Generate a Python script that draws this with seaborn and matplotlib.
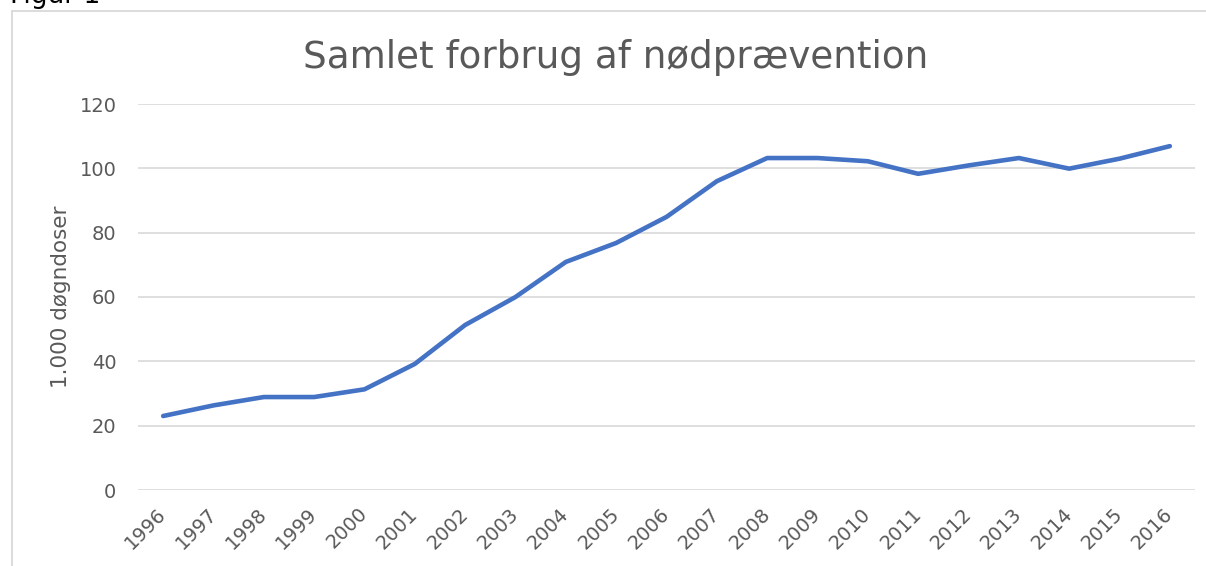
import matplotlib
matplotlib.use("Agg")
import matplotlib.pyplot as plt
import seaborn as sns
import pandas as pd
from matplotlib.patches import Rectangle

years = ["1996", "1997", "1998", "1999", "2000", "2001", "2002", "2003", "2004", "2005",
         "2006", "2007", "2008", "2009", "2010", "2011", "2012", "2013", "2014", "2015", "2016"]
values = [23.0, 26.3, 28.9, 28.9, 31.3, 39.2, 51.3, 60.0, 70.9, 76.8,
          84.9, 96.0, 103.2, 103.2, 102.2, 98.3, 100.9, 103.2, 99.9, 103.0, 106.9]
yticks = [0, 20, 40, 60, 80, 100, 120]

df = pd.DataFrame({"year": years, "value": values})
df["pos"] = range(len(years))

sns.set_theme(style="white")
plt.rcParams["font.family"] = ["DejaVu Sans"]

W, H = 1206, 566
fig = plt.figure(figsize=(W / 100, H / 100), dpi=100)
ax_l, ax_r, ax_b, ax_t = 138, 1195, 490, 104
ax = fig.add_axes([ax_l / W, 1 - ax_b / H, (ax_r - ax_l) / W, (ax_b - ax_t) / H])

gray = "#595959"
sns.lineplot(data=df, x="pos", y="value", ax=ax, color="#4472C4", linewidth=3.3,
             solid_capstyle="round", solid_joinstyle="round", zorder=3)

ax.set_xlim(-0.5, len(years) - 0.5)
ax.set_ylim(0, 120)
ax.set_yticks(yticks)
ax.set_yticklabels([str(t) for t in yticks], color=gray, fontsize=14)
ax.set_xticks(range(len(years)))
ax.set_xticklabels(years, rotation=45, ha="right", va="center", rotation_mode="anchor",
                   color=gray, fontsize=14)
ax.tick_params(axis="both", length=0)
ax.tick_params(axis="y", pad=15.5)
ax.tick_params(axis="x", pad=15)
ax.grid(axis="y", color="#d9d9d9", linewidth=1.2)
ax.set_axisbelow(True)
for s in ["left", "right", "top", "bottom"]:
    ax.spines[s].set_visible(False)
ax.set_xlabel("")
ax.set_ylabel("1.000 døgndoser", color=gray, fontsize=15.5)
ax.yaxis.set_label_coords((71 - ax_l) / (ax_r - ax_l), 0.5)

fig.text(616 / W, 1 - 68 / H, "Samlet forbrug af nødprævention", ha="center", va="baseline",
         color=gray, fontsize=26.8)
fig.text(10 / W, 1 - 3 / H, "Figur 1", ha="left", va="baseline", color="black", fontsize=19)

fig.patches.append(Rectangle((12 / W, -0.1), 1.2, 1 - 11 / H + 0.1, transform=fig.transFigure,
                             fill=False, edgecolor="#d9d9d9", linewidth=1.3))

fig.savefig("out.png", dpi=100)
